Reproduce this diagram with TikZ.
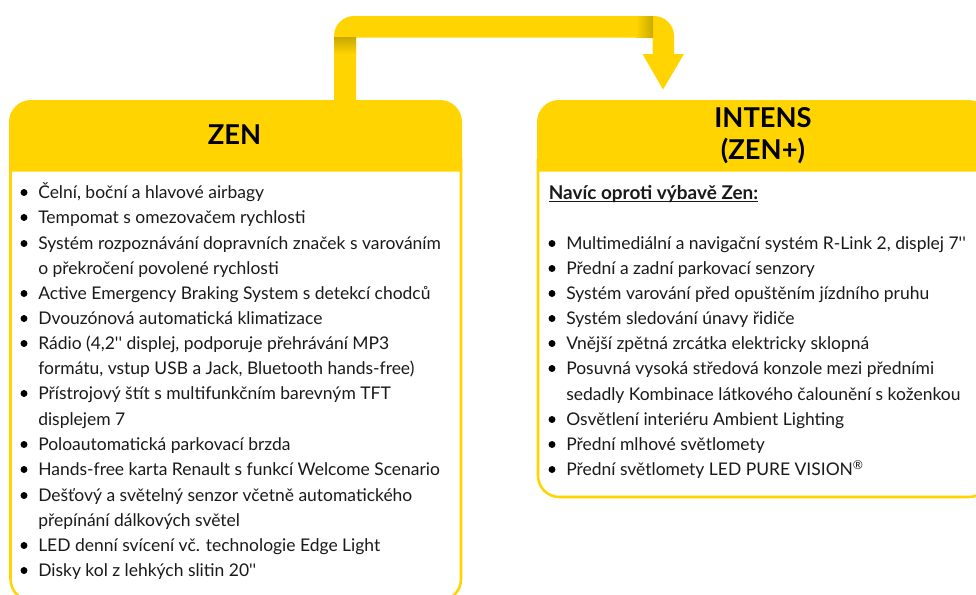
\documentclass[tikz,border=0pt]{standalone}
\usepackage{fontspec}
\setmainfont{Lato}
\newfontfamily\rawlato{Lato}
\definecolor{gold}{HTML}{FFD400}
\definecolor{golddark}{HTML}{C9A900}
\definecolor{ink}{HTML}{1A1A1A}
\tikzset{
  line/.style={anchor=base west,inner sep=0pt,text=ink,font=\fontsize{13.1}{15}\selectfont},
  dot/.style={circle,fill=black,inner sep=0pt,minimum size=5.2pt},
  head/.style={anchor=base,inner sep=0pt,text=black,font=\fontsize{20.5}{22}\selectfont\bfseries},
}
\newcommand{\itemline}[3]{\node[dot] at (#1-14,#2-5.5) {}; \node[line] at (#1,#2) {#3};}
\newcommand{\contline}[3]{\node[line] at (#1,#2) {#3};}
\newcommand{\dq}{{\rawlato'{}'}}
\begin{document}
\begin{tikzpicture}[x=0.75pt,y=-0.75pt]
\useasboundingbox (0,0) rectangle (976,594);
% arrow
\fill[gold] (334,100) [rounded corners=15pt] -- (334,16) -- (674,16) [sharp corners] -- (674,54) -- (684,54) -- (663,89.5) -- (642.5,54) -- (652.5,54) -- (652.5,37.5) -- (356,37.5) -- (356,100) -- cycle;
\shade[top color=golddark,bottom color=gold] (334,37.5) rectangle (356,54);
\shade[left color=gold,right color=golddark] (636,16) rectangle (653,37.5);
% boxes
\begin{scope}
\clip (0,0) rectangle (976,594);
\draw[gold,line width=1.9pt,fill=white] (10.5,160) [rounded corners=16.5pt] -- (10.5,601) -- (461,601) [sharp corners] -- (461,160) -- cycle;
\fill[gold] (9,171.5) [rounded corners=16.5pt] -- (9,100) -- (462,100) [sharp corners] -- (462,171.5) -- cycle;
\draw[gold,line width=1.9pt,fill=white] (538,160) [rounded corners=16pt] -- (538,497) -- (990,497) [sharp corners] -- (990,160) -- cycle;
\fill[gold] (537,171.5) [rounded corners=16.5pt] -- (537,100) -- (990,100) [sharp corners] -- (990,171.5) -- cycle;
\end{scope}
% headings
\node[head] (zen) at (234.5,144) {ZEN};
\node[head] (intens) at (763,127) {INTENS};
\node[head] (zenplus) at (763,159) {(ZEN+)};
\node[line,font=\fontsize{14.2}{15}\selectfont\bfseries,text=ink] (navic) at (548.5,199) {Navíc oproti výbavě Zen:};
\draw[ink,line width=0.8pt] ([yshift=-2.2pt]navic.base west) -- ([yshift=-2.2pt]navic.base east);
% left list
\itemline{38}{198}{Čelní, boční a hlavové airbagy}
\itemline{38}{223}{Tempomat s omezovačem rychlosti}
\itemline{38}{249}{Systém rozpoznávání dopravních značek s varováním}
\contline{38}{274}{o překročení povolené rychlosti}
\itemline{38}{299}{Active Emergency Braking System s detekcí chodců}
\itemline{38}{324}{Dvouzónová automatická klimatizace}
\itemline{38}{349}{Rádio (4,2\dq{} displej, podporuje přehrávání MP3}
\contline{38}{374}{formátu, vstup USB a Jack, Bluetooth hands-free)}
\itemline{38}{399}{Přístrojový štít s multifunkčním barevným TFT}
\contline{38}{425}{displejem 7}
\itemline{38}{450}{Poloautomatická parkovací brzda}
\itemline{38}{475}{Hands-free karta Renault s funkcí Welcome Scenario}
\itemline{38}{501}{Dešťový a světelný senzor včetně automatického}
\contline{38}{526}{přepínání dálkových světel}
\itemline{38}{551}{LED denní svícení vč. technologie Edge Light}
\itemline{38}{576}{Disky kol z lehkých slitin 20\dq{}}
% right list
\itemline{566}{249}{Multimediální a navigační systém R-Link 2, displej 7\dq{}}
\itemline{566}{274}{Přední a zadní parkovací senzory}
\itemline{566}{299}{Systém varování před opuštěním jízdního pruhu}
\itemline{566}{324}{Systém sledování únavy řidiče}
\itemline{566}{349}{Vnější zpětná zrcátka elektricky sklopná}
\itemline{566}{374}{Posuvná vysoká středová konzole mezi předními}
\contline{566}{400}{sedadly Kombinace látkového čalounění s koženkou}
\itemline{566}{425}{Osvětlení interiéru Ambient Lighting}
\itemline{566}{450}{Přední mlhové světlomety}
\itemline{566}{475}{Přední světlomety LED PURE VISION\textsuperscript{®}}
\end{tikzpicture}
\end{document}
